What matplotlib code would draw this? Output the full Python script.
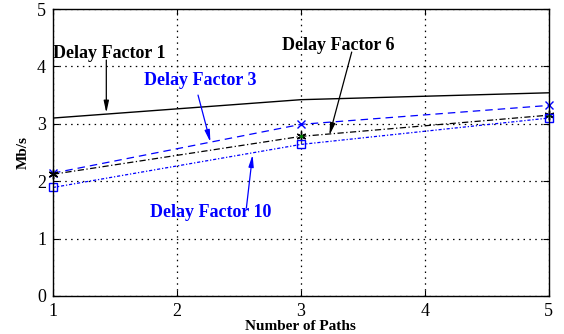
import matplotlib.pyplot as plt

plt.rcParams['font.family'] = ['Liberation Serif', 'DejaVu Serif']

# number of paths
paths = [1, 3, 5]

# throughput in Mb/s for each delay factor
df1 = [3.10, 3.42, 3.54]
df3 = [2.14, 2.99, 3.32]
df6 = [2.12, 2.78, 3.15]
df10 = [1.89, 2.64, 3.10]

fig = plt.figure(figsize=(5.64, 3.34), dpi=100)
ax = fig.add_axes([0.094, 0.114, 0.879, 0.859])

ax.plot(paths, df1, color='black', lw=1.0, ls='-')
ax.plot(paths, df3, color='blue', lw=0.9, ls=(0, (6, 4)), marker='x', ms=6,
        mew=1.0, clip_on=False)
ax.plot(paths, df6, color='black', lw=0.9, ls=(0, (5, 2, 1, 2)),
        marker=(6, 2, 0), ms=7, mew=1.0, clip_on=False)
ax.plot(paths[1:], df6[1:], ls='none', marker='.', color='green', ms=3,
        clip_on=False)
ax.plot(paths, df10, color='blue', lw=0.9, ls=(0, (2.5, 1.5, 1, 1.5)),
        marker='s', ms=6, mfc='none', mew=1.0, clip_on=False)

ax.set_xlim(1, 5)
ax.set_ylim(0, 5)
ax.set_xticks([1, 2, 3, 4, 5])
ax.set_yticks([0, 1, 2, 3, 4, 5])
ax.tick_params(direction='in', top=True, right=True, labelsize=13,
               length=4, pad=5)
ax.grid(True, color='black', ls=(0, (1.2, 3.5)), lw=0.9)
for s in ax.spines.values():
    s.set_linewidth(1.0)

ax.set_xlabel('Number of Paths', fontsize=11, fontweight='bold', labelpad=0)
ax.set_ylabel('Mb/s', fontsize=11, fontweight='bold', labelpad=5)

arrow = dict(arrowstyle='-|>,head_length=0.7,head_width=0.15', lw=0.9,
             shrinkA=0, shrinkB=0)

ax.annotate('', xy=(1.43, 3.19), xytext=(1.43, 4.11),
            arrowprops=dict(arrow, color='black'))
ax.text(1.0, 4.22, 'Delay Factor 1', fontsize=13, fontweight='bold',
        va='center', ha='left', color='black')

ax.annotate('', xy=(2.27, 2.68), xytext=(2.17, 3.50),
            arrowprops=dict(arrow, color='blue'))
ax.text(2.19, 3.76, 'Delay Factor 3', fontsize=13, fontweight='bold',
        va='center', ha='center', color='blue')

ax.annotate('', xy=(3.23, 2.80), xytext=(3.41, 4.25),
            arrowprops=dict(arrow, color='black'))
ax.text(2.85, 4.37, 'Delay Factor 6', fontsize=13, fontweight='bold',
        va='center', ha='left', color='black')

ax.annotate('', xy=(2.61, 2.46), xytext=(2.56, 1.53),
            arrowprops=dict(arrow, color='blue'))
ax.text(2.27, 1.46, 'Delay Factor 10', fontsize=13, fontweight='bold',
        va='center', ha='center', color='blue')

fig.savefig('out.png', dpi=100)
